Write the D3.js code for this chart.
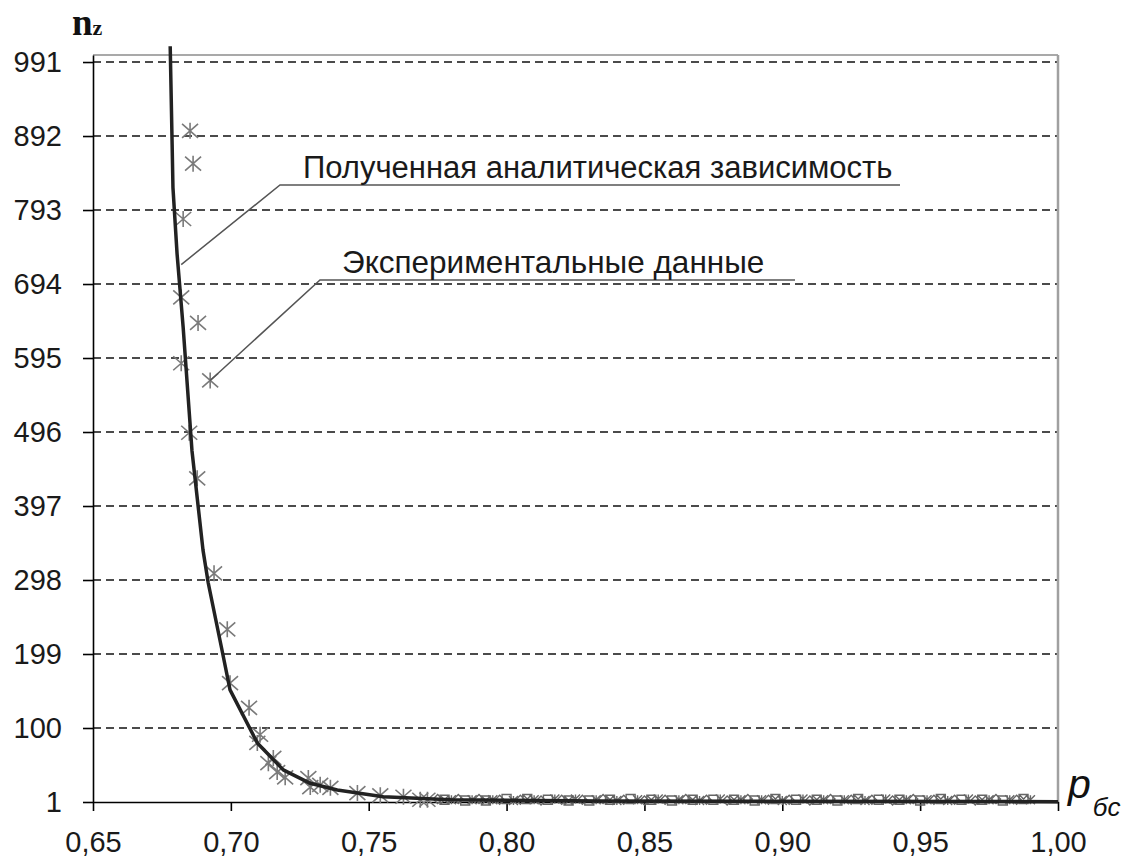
<!DOCTYPE html>
<html>
<head>
<meta charset="utf-8">
<script src="https://cdn.jsdelivr.net/npm/d3@7"></script>
<style>
  body { margin: 0; background: #fff; }
  svg { display: block; }
</style>
</head>
<body>
<div id="chart"></div>
<script>
const w = 1137, h = 860;

// tick labels
const yTicks = [1, 100, 199, 298, 397, 496, 595, 694, 793, 892, 991];
const xTicks = [0.65, 0.70, 0.75, 0.80, 0.85, 0.90, 0.95, 1.00];

// analytic dependence
const curveX = [0.6780, 0.6787, 0.6790, 0.6805, 0.6827, 0.6859, 0.6899, 0.6918, 0.6968, 0.6997,
                0.7096, 0.7190, 0.7288, 0.7386, 0.7553, 0.7796, 0.8341, 1.0000];
const curveY = [1012, 881, 823, 734, 636, 471, 338, 294, 204, 151,
                80, 44, 26, 17, 8, 4, 2.5, 1.5];

// experimental points (asterisks)
const expX = [0.6852, 0.6863, 0.6827, 0.6820, 0.6881, 0.6820, 0.6925, 0.6849, 0.6878, 0.6939,
              0.6987, 0.6997, 0.7066, 0.7106, 0.7096, 0.7154, 0.7136, 0.7168, 0.7197, 0.7281,
              0.7288, 0.7324, 0.7361, 0.7459, 0.7542, 0.7626, 0.7687, 0.7713];
const expY = [899, 855, 781, 676, 642, 588, 565, 495, 434, 307,
              232, 160, 127, 91, 80, 60, 53, 41, 34, 33,
              21, 24, 20, 13, 10, 8, 4, 4];

// dense tail of experimental points near the axis
const tailX = [0.7750, 0.7775, 0.7800, 0.7825, 0.7850, 0.7875, 0.7900, 0.7925, 0.7950, 0.7975,
               0.8000, 0.8025, 0.8050, 0.8075, 0.8100, 0.8125, 0.8150, 0.8175, 0.8200, 0.8225,
               0.8250, 0.8275, 0.8300, 0.8325, 0.8350, 0.8375, 0.8400, 0.8425, 0.8450, 0.8475,
               0.8500, 0.8525, 0.8550, 0.8575, 0.8600, 0.8625, 0.8650, 0.8675, 0.8700, 0.8725,
               0.8750, 0.8775, 0.8800, 0.8825, 0.8850, 0.8875, 0.8900, 0.8925, 0.8950, 0.8975,
               0.9000, 0.9025, 0.9050, 0.9075, 0.9100, 0.9125, 0.9150, 0.9175, 0.9200, 0.9225,
               0.9250, 0.9275, 0.9300, 0.9325, 0.9350, 0.9375, 0.9400, 0.9425, 0.9450, 0.9475,
               0.9500, 0.9525, 0.9550, 0.9575, 0.9600, 0.9625, 0.9650, 0.9675, 0.9700, 0.9725,
               0.9750, 0.9775, 0.9800, 0.9825, 0.9850, 0.9875, 0.9900];
const tailY = [5, 4, 4, 5, 3, 4, 5, 3, 4, 4,
               5, 3, 4, 5, 4, 3, 4, 5, 4, 3,
               5, 4, 3, 4, 5, 4, 3, 4, 5, 4,
               3, 4, 5, 4, 3, 4, 5, 4, 3, 4,
               4, 5, 3, 4, 4, 5, 3, 4, 4, 5,
               3, 4, 4, 5, 3, 4, 4, 5, 3, 4,
               4, 5, 3, 4, 4, 5, 3, 4, 4, 5,
               3, 4, 4, 5, 3, 4, 4, 5, 3, 4,
               4, 5, 3, 4, 4, 5, 4];

const labelCurve = "Полученная аналитическая зависимость";
const labelExp = "Экспериментальные данные";

const svg = d3.select("#chart")
    .append("svg")
    .attr("width", w)
    .attr("height", h);

const x = d3.scaleLinear().domain([0.65, 1.0]).range([93, 1058]);
const y = d3.scaleLinear().domain([1, 1000.4]).range([802, 55]);

// grid
svg.append("g")
    .selectAll("line")
    .data(yTicks.filter(d => d > 1))
    .enter().append("line")
    .attr("x1", x(0.65))
    .attr("x2", x(1.0))
    .attr("y1", d => y(d))
    .attr("y2", d => y(d))
    .style("stroke", "#111")
    .style("stroke-width", 1.5)
    .style("stroke-dasharray", "8,5");

// plot border (top, right)
svg.append("line")
    .attr("x1", x(0.65)).attr("x2", x(1.0))
    .attr("y1", y(1000.4)).attr("y2", y(1000.4))
    .style("stroke", "#8c8c8c").style("stroke-width", 1.5);
svg.append("line")
    .attr("x1", x(1.0)).attr("x2", x(1.0))
    .attr("y1", y(1000.4)).attr("y2", y(1))
    .style("stroke", "#a0a0a0").style("stroke-width", 2.5);

// axes
const fmtX = d => d3.format(".2f")(d).replace(".", ",");

const yAxis = svg.append("g")
    .attr("transform", "translate(" + x(0.65) + ",0)")
    .call(d3.axisLeft(y).tickValues(yTicks).tickSize(10).tickSizeOuter(0).tickPadding(21));

const xAxis = svg.append("g")
    .attr("transform", "translate(0," + y(1) + ")")
    .call(d3.axisBottom(x).tickValues(xTicks).tickFormat(fmtX).tickSize(9).tickSizeOuter(0));

[yAxis, xAxis].forEach(a => {
    a.selectAll("path, line").style("stroke", "#000").style("stroke-width", 1.6);
    a.selectAll("text")
        .style("font-family", "'Liberation Sans', Arial, sans-serif")
        .style("font-size", "29px")
        .style("fill", "#1a1a1a");
});
xAxis.selectAll("text").attr("y", 50).attr("dy", 0);

// tail markers (mixed shapes)
const tailShapes = ["diamond", "xbox", "cross", "diamond", "square", "cross"];
function markerPath(shape) {
    const r = 4.5;
    if (shape === "diamond") return `M0,${-r}L${r},0L0,${r}L${-r},0Z`;
    if (shape === "square") return `M${-r},${-r}H${r}V${r}H${-r}Z`;
    if (shape === "xbox") return `M${-r},${-r}H${r}V${r}H${-r}Z M${-r},${-r}L${r},${r}M${-r},${r}L${r},${-r}`;
    return `M${-r},${-r}L${r},${r}M${-r},${r}L${r},${-r}M0,${-r}V${r}`;
}

svg.append("g")
    .selectAll("path")
    .data(tailX)
    .enter().append("path")
    .attr("transform", (d, i) => "translate(" + x(d) + "," + y(tailY[i]) + ")")
    .attr("d", (d, i) => markerPath(tailShapes[i % tailShapes.length]))
    .style("fill", "none")
    .style("stroke", "#666")
    .style("stroke-width", 1.4);

// asterisks
const star = "M0,-8V8M-8,-7L8,7M-8,7L8,-7";
svg.append("g")
    .selectAll("path")
    .data(expX)
    .enter().append("path")
    .attr("transform", (d, i) => "translate(" + x(d) + "," + y(expY[i]) + ")")
    .attr("d", star)
    .style("fill", "none")
    .style("stroke", "#7a7a7a")
    .style("stroke-width", 1.6);

// analytic curve
const line = d3.line()
    .x((d, i) => x(curveX[i]))
    .y((d, i) => y(curveY[i]));

svg.append("path")
    .datum(curveX)
    .attr("d", line)
    .style("fill", "none")
    .style("stroke", "#222")
    .style("stroke-width", 3.5)
    .style("stroke-linejoin", "round");

// annotations
const annFont = "'Liberation Sans', Arial, sans-serif";

svg.append("polyline")
    .attr("points", [[x(0.6820), y(720)], [280, 185], [900, 185]].join(" "))
    .style("fill", "none").style("stroke", "#555").style("stroke-width", 1.5);
svg.append("text")
    .attr("x", 303).attr("y", 178)
    .text(labelCurve)
    .style("font-family", annFont).style("font-size", "31px").style("fill", "#1a1a1a");

svg.append("polyline")
    .attr("points", [[x(0.6925), y(565)], [320, 280], [795, 280]].join(" "))
    .style("fill", "none").style("stroke", "#555").style("stroke-width", 1.5);
svg.append("text")
    .attr("x", 342).attr("y", 273)
    .text(labelExp)
    .style("font-family", annFont).style("font-size", "31.5px").style("fill", "#1a1a1a");

// axis titles
const nz = svg.append("text")
    .attr("x", 72).attr("y", 35)
    .style("font-family", "'Liberation Serif', 'Times New Roman', serif")
    .style("font-weight", "bold")
    .style("fill", "#111");
nz.append("tspan").style("font-size", "37px").text("n");
nz.append("tspan").style("font-size", "22px").text("z");

const pb = svg.append("text")
    .attr("x", 1068).attr("y", 798)
    .style("font-family", "'Liberation Sans', Arial, sans-serif")
    .style("font-style", "italic")
    .style("fill", "#111");
pb.append("tspan").style("font-size", "41px").text("p");
pb.append("tspan").attr("dy", 18).attr("dx", 2).style("font-size", "26px").text("бс");
</script>
</body>
</html>
